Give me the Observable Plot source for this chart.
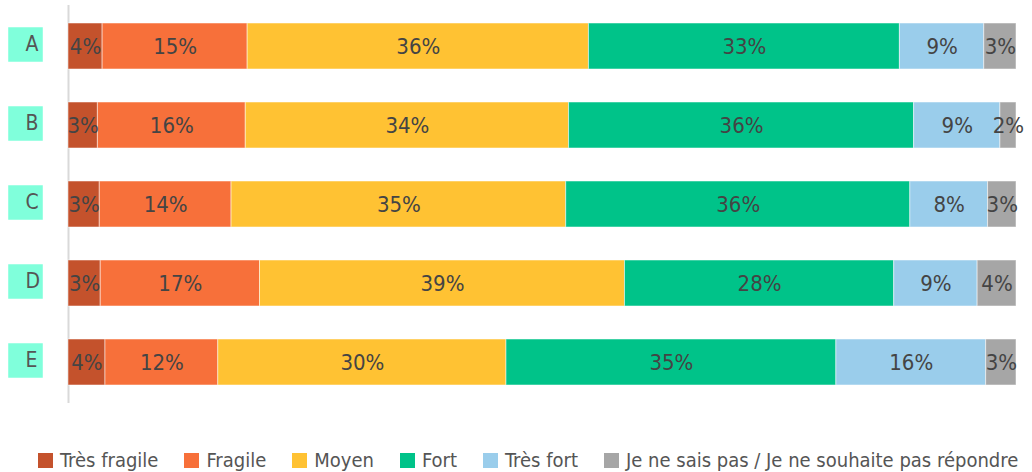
<!DOCTYPE html>
<html>
<head>
<meta charset="utf-8">
<script src="https://cdn.jsdelivr.net/npm/d3@7"></script>
<script src="https://cdn.jsdelivr.net/npm/@observablehq/plot@0.6"></script>
<style>
  body { margin: 0; background: #fff; font-family: "Liberation Sans Narrow", "DejaVu Sans Condensed", "DejaVu Sans", sans-serif; font-stretch: condensed; }
  svg text { font-stretch: condensed; }
  #legend { display: flex; justify-content: flex-start; align-items: center; padding-left: 38px; margin-top: 38px; font-size: 20px; color: #555; white-space: nowrap; }
  .item { display: flex; align-items: center; margin-right: 26px; }
  .sw { width: 15px; height: 15px; margin-right: 7px; flex: none; }
</style>
</head>
<body>
<div id="chart"></div>
<div id="legend"></div>
<script>
const categories = ["A", "B", "C", "D", "E"];
const series = ["Très fragile", "Fragile", "Moyen", "Fort", "Très fort", "Je ne sais pas / Je ne souhaite pas répondre"];
const colors = ["#C4522C", "#F7703A", "#FFC233", "#00C389", "#9ACDEB", "#A6A6A6"];
// values per category, in series order (percent)
const valuesA = [3.6, 15.3, 36.0, 32.8, 8.9, 3.4];
const valuesB = [3.1, 15.6, 34.1, 36.4, 9.1, 1.7];
const valuesC = [3.3, 13.9, 35.3, 36.3, 8.2, 3.0];
const valuesD = [3.4, 16.8, 38.5, 28.4, 8.8, 4.1];
const valuesE = [3.9, 11.9, 30.4, 34.8, 15.8, 3.2];
const allValues = [valuesA, valuesB, valuesC, valuesD, valuesE];

const data = [];
categories.forEach((c, i) => {
  series.forEach((s, j) => {
    data.push({cat: c, series: s, value: allValues[i][j]});
  });
});

const FONT = '"Liberation Sans Narrow", "DejaVu Sans Condensed", "DejaVu Sans", sans-serif';
const chart = Plot.plot({
  width: 1032,
  height: 410,
  marginLeft: 68,
  marginRight: 16,
  marginTop: 5,
  marginBottom: 7,
  style: {fontFamily: FONT, background: "#fff"},
  x: {domain: [0, 100], axis: null},
  y: {domain: categories, axis: null, paddingInner: 0.42, paddingOuter: 0.213},
  color: {domain: series, range: colors},
  marks: [
    Plot.ruleX([0], {stroke: "#d9d9d9", strokeWidth: 2}),
    Plot.barX(data, Plot.stackX({x: "value", y: "cat", z: "series", fill: "series", stroke: "#fff", strokeOpacity: 0.5, strokeWidth: 1})),
    Plot.text(data, Plot.stackX({x: "value", y: "cat", z: "series", text: d => Math.round(d.value) + "%", fill: "#444", fontSize: 22})),
    Plot.dot(categories, {y: d => d, frameAnchor: "left", dx: -43, dy: -2, symbol: "square", r: 19.5, fill: "#80FFDB", stroke: "none"}),
    Plot.text(categories, {y: d => d, text: d => d, frameAnchor: "left", dx: -43, dy: -2, fill: "#555", fontSize: 21})
  ]
});
document.getElementById("chart").appendChild(chart);

const legend = document.getElementById("legend");
series.forEach((s, j) => {
  const item = document.createElement("div");
  item.className = "item";
  const sw = document.createElement("div");
  sw.className = "sw";
  sw.style.background = colors[j];
  const t = document.createElement("span");
  t.textContent = s;
  item.appendChild(sw);
  item.appendChild(t);
  legend.appendChild(item);
});
</script>
</body>
</html>
